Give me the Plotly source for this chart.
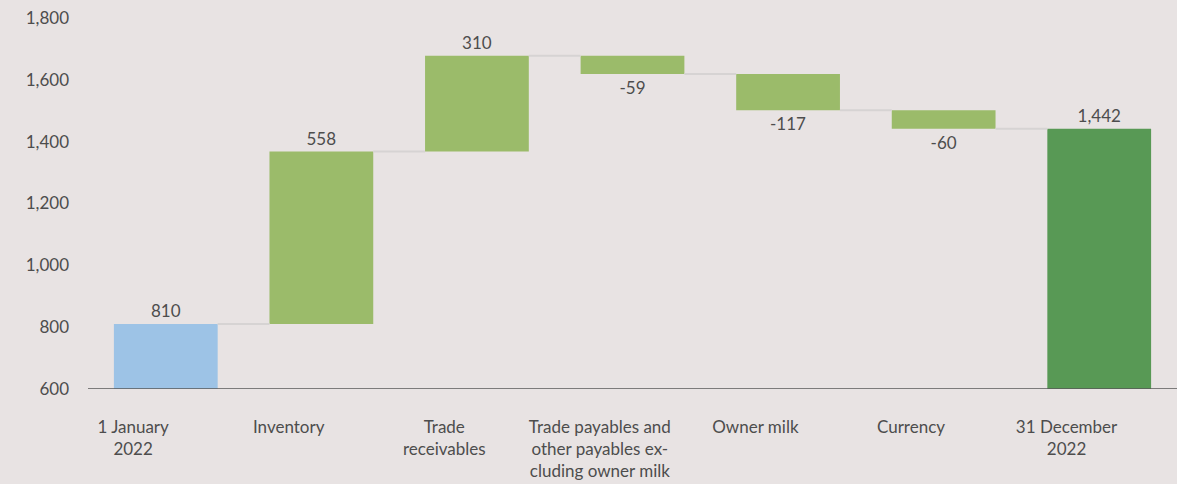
import numpy as np
import plotly.graph_objects as go

categories = ["1 January<br>2022", "Inventory", "Trade<br>receivables",
              "Trade payables and<br>other payables ex-<br>cluding owner milk",
              "Owner milk", "Currency", "31 December<br>2022"]
changes = [810, 558, 310, -59, -117, -60]
closing = 1442
labels = ["810", "558", "310", "-59", "-117", "-60", "1,442"]

BLUE = "#9DC3E6"
LIGHT_GREEN = "#9BBB6A"
DARK_GREEN = "#589955"
BG = "#E8E3E3"
TXT = "#4D4D4D"

# waterfall geometry from the data
levels = np.cumsum(changes)
bases = [0] + list(levels[:-1]) + [0]
heights = changes + [closing]
colors = [BLUE] + [LIGHT_GREEN] * (len(changes) - 1) + [DARK_GREEN]
x = list(range(len(categories)))
bar_w = 0.667
label_shift = 0.21  # category labels sit a little left of the bars

fig = go.Figure()

# connectors between bars
for i, lvl in enumerate(levels):
    fig.add_trace(go.Scatter(
        x=[i + bar_w / 2, i + 1 - bar_w / 2], y=[lvl, lvl],
        mode="lines", line=dict(color="#D6D3D3", width=2),
        hoverinfo="skip", showlegend=False,
    ))

fig.add_trace(go.Bar(
    x=x, y=heights, base=bases, width=bar_w,
    marker=dict(color=colors, line=dict(width=0)),
    text=labels, textposition="outside", cliponaxis=False,
    textfont=dict(size=17, color=TXT),
    showlegend=False,
))

fig.update_layout(
    width=1177, height=484,
    margin=dict(l=88, r=0, t=18, b=95),
    paper_bgcolor=BG, plot_bgcolor=BG,
    font=dict(family="Lato, Open Sans, sans-serif", size=17, color=TXT),
)
fig.update_xaxes(
    range=[-0.5, 6.5], tickvals=[i - label_shift for i in x], ticktext=categories,
    showgrid=False, zeroline=False, showline=False, ticks="",
    ticklabelstandoff=26,
)
fig.update_yaxes(
    range=[600, 1800], tickvals=list(range(600, 1801, 200)),
    tickformat=",", showgrid=False, zeroline=False, ticks="",
    ticklabelstandoff=18,
)
# baseline at 600
fig.add_hline(y=600, line=dict(color="#595959", width=1.5))

fig.write_html("out.html", config={"displayModeBar": False},
               post_script="document.body.style.margin='0';")
